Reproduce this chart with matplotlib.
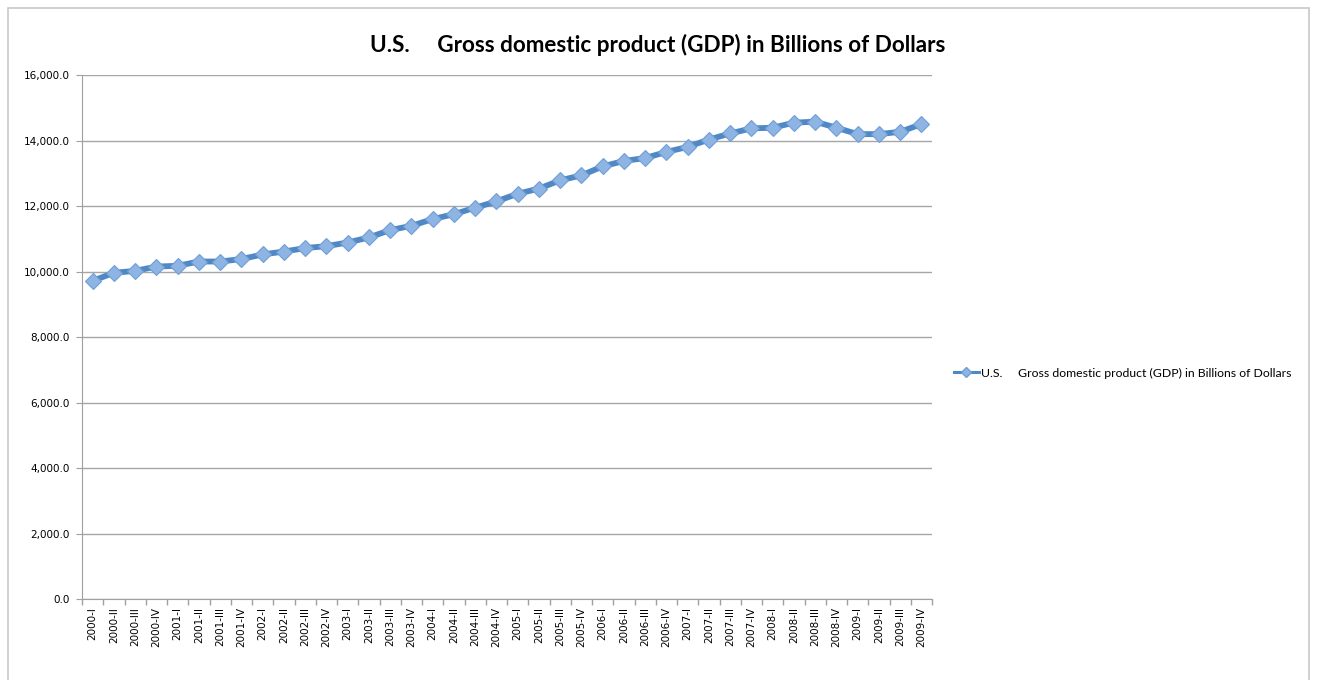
import matplotlib
matplotlib.use("Agg")
import matplotlib.pyplot as plt
from matplotlib.patches import Rectangle
from matplotlib.lines import Line2D
from matplotlib.ticker import FuncFormatter, FixedLocator, NullFormatter

# Quarterly labels 2000-I .. 2009-IV
years = list(range(2000, 2010))
quarters = ["I", "II", "III", "IV"]
labels = [f"{y}-{q}" for y in years for q in quarters]

# GDP in billions of dollars
gdp = [9716, 9960, 10020, 10150, 10175, 10305, 10305, 10380,
       10520, 10610, 10715, 10775, 10885, 11040, 11265, 11395,
       11600, 11750, 11950, 12140, 12375, 12530, 12785, 12935,
       13210, 13375, 13465, 13650, 13805, 14030, 14215, 14370,
       14390, 14545, 14575, 14390, 14195, 14195, 14265, 14500]

series_name = "U.S.     Gross domestic product (GDP) in Billions of Dollars"

fig = plt.figure(figsize=(13.17, 6.8), dpi=100)
ax = fig.add_axes([0.0623, 0.1191, 0.6454, 0.7706])

# outer chart frame
fig.patches.append(Rectangle((0.006, -0.01), 0.988, 0.998, transform=fig.transFigure,
                             fill=False, edgecolor="#c8c8c8", linewidth=1.2))

line_col = "#5088c6"
face_col = "#8eb4e3"
x = list(range(len(labels)))
ax.plot(x, gdp, color=line_col, linewidth=4.2, marker="D", markersize=8,
        markerfacecolor=face_col, markeredgecolor="#6f9fd6", markeredgewidth=0.8,
        zorder=3)

ax.set_ylim(0, 16000)
ax.set_yticks(range(0, 16001, 2000))
ax.yaxis.set_major_formatter(FuncFormatter(lambda v, p: f"{v:,.1f}"))
ax.set_xlim(-0.5, len(labels) - 0.5)
ax.set_xticks(x)
ax.set_xticklabels(labels, rotation=90, fontsize=7.5, family="DejaVu Sans")
# tick marks sit between categories, like a spreadsheet chart
ax.xaxis.set_minor_locator(FixedLocator([i - 0.5 for i in range(len(labels) + 1)]))
ax.xaxis.set_minor_formatter(NullFormatter())
ax.xaxis.set_tick_params(which="major", length=0, pad=6)
ax.xaxis.set_tick_params(which="minor", length=4, width=1, direction="out", color="#a0a0a0")
ax.tick_params(axis="y", length=4, color="#a0a0a0", labelsize=7.5, pad=5)
for lab in ax.get_yticklabels():
    lab.set_family("DejaVu Sans")

ax.grid(axis="y", which="major", color="#a6a6a6", linewidth=1)
ax.set_axisbelow(True)
for s in ["top", "right"]:
    ax.spines[s].set_visible(False)
ax.spines["left"].set_color("#a0a0a0")
ax.spines["bottom"].set_color("#a0a0a0")

fig.text(0.4996, 0.934, series_name, ha="center", va="center", fontsize=16.2,
         fontweight="bold", family="Lato")

handle = Line2D([], [], color=line_col, linewidth=2.2, marker="D", markersize=5,
                markerfacecolor=face_col, markeredgecolor="#6f9fd6")
ax.legend([handle], [series_name], loc="center left", bbox_to_anchor=(1.013, 0.431),
          frameon=False, handlelength=2.0, handletextpad=0.2,
          prop={"family": "Lato", "size": 8.8})

fig.savefig("out.png", dpi=100)
